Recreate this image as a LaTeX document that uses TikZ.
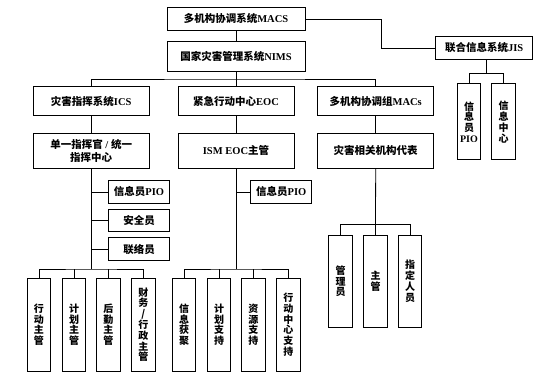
\documentclass[tikz,border=0pt]{standalone}
\usepackage{fontspec}
\setmainfont{Liberation Serif}
\newfontfamily\cjk{Noto Sans CJK SC}
\newcommand\lat[1]{{\rmfamily #1}}
\begin{document}
\begin{tikzpicture}[x=1pt,y=-1pt,
  box/.style={draw, line width=1pt, inner sep=0pt, align=center,
    font=\cjk\bfseries\fontsize{10.5}{12.5}\selectfont},
  hb/.style={box, minimum width=116pt, minimum height=29pt},
  vb/.style={box, minimum width=23.4pt, minimum height=92.7pt,
    font=\cjk\bfseries\fontsize{10}{10.8}\selectfont},
  sb/.style={box, minimum width=60.6pt, minimum height=22.6pt},
  ln/.style={line width=0.8pt}]
\useasboundingbox (0,0) rectangle (542,377);
% top
\node[box, minimum width=138pt, minimum height=23.4pt] (macs) at (236,19) {多机构协调系统\lat{MACS}};
\node[box, minimum width=138pt, minimum height=30pt] (nims) at (236,56.6) {国家灾害管理系统\lat{NIMS}};
\node[box, minimum width=97.5pt, minimum height=22.5pt] (jis) at (484.2,48) {联合信息系统\lat{JIS}};
\node[vb, minimum height=76pt] (jpio) at (469,122) {信\\息\\员\\\lat{PIO}};
\node[vb, minimum height=76pt] (jc) at (503.5,122) {信\\息\\中\\心};
% row 2
\node[hb] (ics) at (91.2,101.2) {灾害指挥系统\lat{ICS}};
\node[hb] (eoc) at (236,101.2) {紧急行动中心\lat{EOC}};
\node[hb] (macg) at (375.7,101.2) {多机构协调组\lat{MACs}};
% row 3
\node[hb, minimum height=34.5pt] (cmd) at (91.2,150.8) {单一指挥官\lat{ / }统一\\指挥中心};
\node[hb, minimum height=34.5pt] (ism) at (236,150.8) {\lat{ISM EOC}主管};
\node[hb, minimum height=34.5pt] (rep) at (375.7,150.8) {灾害相关机构代表};
% staff
\node[sb] (pio1) at (139,192) {信息员\lat{PIO}};
\node[sb] (safe) at (139,220.4) {安全员};
\node[sb] (liai) at (139,249.2) {联络员};
\node[sb] (pio2) at (281.2,192) {信息员\lat{PIO}};
% bottom left
\node[vb] (a1) at (39,324.7) {行\\动\\主\\管};
\node[vb] (a2) at (74,324.7) {计\\划\\主\\管};
\node[vb] (a3) at (108.4,324.7) {后\\勤\\主\\管};
\node[vb] (a4) at (143.4,324.7) {财\\务\\/\\行\\政\\主\\管};
% bottom middle
\node[vb] (b1) at (184,324.7) {信\\息\\获\\聚};
\node[vb] (b2) at (219,324.7) {计\\划\\支\\持};
\node[vb] (b3) at (253.4,324.7) {资\\源\\支\\持};
\node[vb] (b4) at (288.4,324.7) {行\\动\\中\\心\\支\\持};
% right
\node[vb] (c1) at (340.5,281.4) {管\\理\\员};
\node[vb] (c2) at (375.5,281.4) {主\\管};
\node[vb] (c3) at (410,281.4) {指\\定\\人\\员};
% bus coordinates
\coordinate (bus1) at (236,79);
\coordinate (jbus) at (486.3,73.5);
\coordinate (lbus) at (91.2,269);
\coordinate (mbus) at (236,269);
\coordinate (rbus) at (375.5,224.3);
\coordinate (jbend) at (381,19);
% connectors
\draw[ln] (macs) -- (nims);
\draw[ln] (macs.east) -- (jbend) |- (jis.west);
\draw[ln] (jbus |- jis.south) -- (jbus);
\draw[ln] (jpio.north) |- (jbus) -| (jc.north);
\draw[ln] (nims.south) -- (bus1);
\draw[ln] (ics.north) |- (bus1) -| (macg.north);
\draw[ln] (bus1) -- (eoc.north);
\draw[ln] (ics) -- (cmd);
\draw[ln] (eoc) -- (ism);
\draw[ln] (macg) -- (rep);
\draw[ln] (cmd.south) -- (lbus);
\draw[ln] (pio1.west) -- (pio1.west -| lbus);
\draw[ln] (safe.west) -- (safe.west -| lbus);
\draw[ln] (liai.west) -- (liai.west -| lbus);
\draw[ln] (a1.north) |- (lbus) -| (a4.north);
\draw[ln] (a2.north) -- (a2.north |- lbus);
\draw[ln] (a3.north) -- (a3.north |- lbus);
\draw[ln] (ism.south) -- (mbus);
\draw[ln] (pio2.west) -- (pio2.west -| mbus);
\draw[ln] (b1.north) |- (mbus) -| (b4.north);
\draw[ln] (b2.north) -- (b2.north |- mbus);
\draw[ln] (b3.north) -- (b3.north |- mbus);
\draw[ln] (rep.south) -- (rbus);
\draw[ln] (c1.north) |- (rbus) -| (c3.north);
\draw[ln] (c2.north) -- (rbus);
\end{tikzpicture}
\end{document}
